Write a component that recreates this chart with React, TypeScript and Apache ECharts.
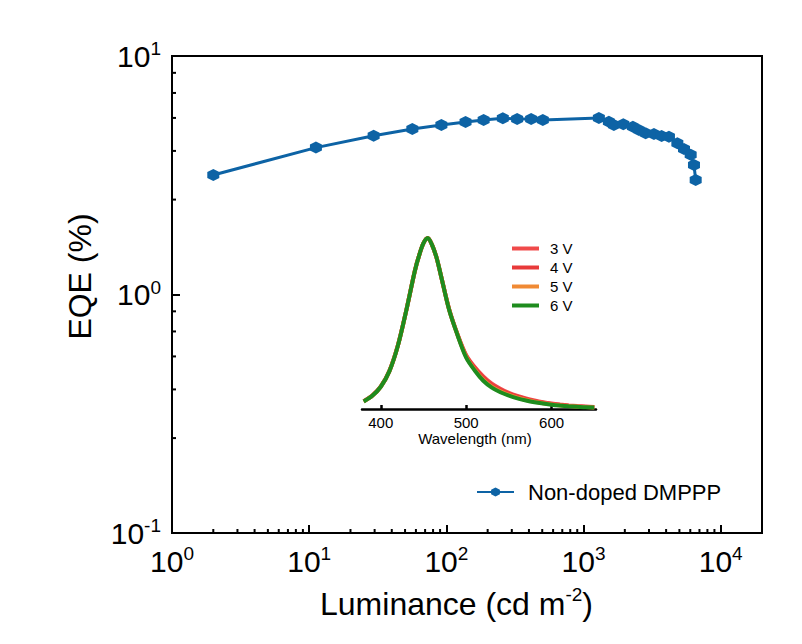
import React, { useEffect, useRef } from 'react';
import * as echarts from 'echarts';

// ---- main EQE vs luminance data ----
const luminance = [2.0, 11.2, 29.5, 56.5, 92, 138, 187, 258, 328, 415, 505, 1294, 1530, 1664, 1950, 2290, 2535, 2836, 3260, 3710, 4195, 4830, 5400, 6040, 6385, 6570];
const eqe = [3.17, 4.13, 4.63, 4.94, 5.14, 5.29, 5.39, 5.48, 5.44, 5.44, 5.39, 5.5, 5.3, 5.14, 5.17, 5.05, 4.89, 4.74, 4.71, 4.62, 4.59, 4.31, 4.07, 3.85, 3.49, 3.02];

// ---- minor tick values (Origin style) ----
const xMinorTicks = [2, 3, 4, 5, 6, 7, 8, 9, 20, 30, 40, 50, 60, 70, 80, 90, 200, 300, 400, 500, 600, 700, 800, 900, 2000, 3000, 4000, 5000, 6000, 7000, 8000, 9000];
const yMinorTicks = [0.25, 0.4, 0.55, 0.7, 0.85, 2.5, 4, 5.5, 7, 8.5];

// ---- inset EL spectra ----
const wavelength = [380, 390, 400, 410, 420, 430, 440, 445, 450, 455, 460, 465, 470, 480, 490, 500, 510, 520, 530, 540, 550, 560, 570, 580, 590, 600, 610, 620, 630, 640, 650];
const el3V = [0.046, 0.079, 0.132, 0.222, 0.372, 0.58, 0.81, 0.9, 0.97, 1.0, 0.96, 0.89, 0.79, 0.585, 0.435, 0.315, 0.245, 0.19, 0.148, 0.118, 0.095, 0.077, 0.062, 0.05, 0.04, 0.032, 0.026, 0.021, 0.017, 0.014, 0.011];
const el4V = [0.045, 0.078, 0.131, 0.221, 0.371, 0.58, 0.81, 0.9, 0.97, 1.0, 0.96, 0.89, 0.79, 0.583, 0.433, 0.31, 0.238, 0.182, 0.14, 0.111, 0.089, 0.072, 0.058, 0.046, 0.037, 0.03, 0.024, 0.019, 0.015, 0.012, 0.01];
const el5V = [0.044, 0.077, 0.13, 0.22, 0.37, 0.58, 0.81, 0.9, 0.97, 1.0, 0.96, 0.89, 0.79, 0.581, 0.431, 0.305, 0.23, 0.172, 0.131, 0.103, 0.082, 0.066, 0.053, 0.042, 0.034, 0.027, 0.021, 0.017, 0.014, 0.011, 0.009];
const el6V = [0.044, 0.077, 0.13, 0.22, 0.37, 0.58, 0.81, 0.9, 0.97, 1.0, 0.96, 0.89, 0.79, 0.58, 0.43, 0.3, 0.225, 0.165, 0.125, 0.098, 0.078, 0.062, 0.05, 0.04, 0.032, 0.025, 0.02, 0.016, 0.013, 0.01, 0.009];
const insetTicks = [400, 500, 600];

const FONT = '"Liberation Sans", Arial, Helvetica, sans-serif';
const BLUE = '#0d63a5';
const HEX = 'path://M0,-1 L0.866,-0.5 L0.866,0.5 L0,1 L-0.866,0.5 L-0.866,-0.5 Z';

const pow10 = (v: number) => {
  const e = Math.round(Math.log10(v));
  return `{b|10}{s|${e}}`;
};
const powRich = {
  b: { fontSize: 30, lineHeight: 34, fontFamily: FONT, color: '#000' },
  s: { fontSize: 19, lineHeight: 19, fontFamily: FONT, color: '#000', verticalAlign: 'top' },
};

const zip = (xs: number[], ys: number[]) => xs.map((x, i) => [x, ys[i]]);

export default function App() {
  const ref = useRef<HTMLDivElement>(null);
  useEffect(() => {
    if (!ref.current) return;
    const chart = echarts.init(ref.current, undefined, { renderer: 'svg' });
    const option: any = {
      animation: false,
      backgroundColor: '#ffffff',
      textStyle: { fontFamily: FONT },
      grid: [
        { left: 172, top: 56, width: 590, height: 477, show: true, borderColor: '#000', borderWidth: 2, backgroundColor: 'transparent' },
        { left: 362, top: 238, width: 234, height: 171, show: false },
      ],
      xAxis: [
        {
          type: 'log', logBase: 10, min: 1, max: 20000, gridIndex: 0,
          axisLine: { show: true, lineStyle: { color: '#000', width: 2 } },
          axisTick: { show: true, inside: true, length: 8, lineStyle: { color: '#000', width: 2 } },
          axisLabel: { show: true, formatter: pow10, rich: powRich, margin: 11, showMaxLabel: false, color: '#000' },
          splitLine: { show: false },
          name: '{a|Luminance (cd m}{s|-2}{a|)}',
          nameLocation: 'middle',
          nameGap: 52,
          nameTextStyle: {
            padding: [0, 21, 0, 0],
            rich: {
              a: { fontSize: 32, lineHeight: 38, fontFamily: FONT, color: '#000' },
              s: { fontSize: 19, lineHeight: 19, fontFamily: FONT, color: '#000', verticalAlign: 'top' },
            },
          },
        },
        {
          type: 'value', min: 378, max: 652, gridIndex: 1,
          axisLine: { show: true, lineStyle: { color: '#000', width: 2.5 } },
          axisTick: { show: true, inside: true, length: 4, customValues: insetTicks, lineStyle: { color: '#000', width: 2.5 } },
          axisLabel: { show: true, customValues: insetTicks, fontSize: 15, margin: 6, color: '#000', fontFamily: FONT },
          splitLine: { show: false },
          name: 'Wavelength (nm)',
          nameLocation: 'middle',
          nameGap: 21,
          nameTextStyle: { fontSize: 15, color: '#000', fontFamily: FONT, padding: [0, 8, 0, 0] },
        },
      ],
      yAxis: [
        {
          type: 'log', logBase: 10, min: 0.1, max: 10, gridIndex: 0,
          axisLine: { show: true, lineStyle: { color: '#000', width: 2 } },
          axisTick: { show: true, inside: true, length: 8, lineStyle: { color: '#000', width: 2 } },
          axisLabel: { show: true, formatter: pow10, rich: powRich, margin: 11, color: '#000' },
          splitLine: { show: false },
          name: 'EQE (%)',
          nameLocation: 'middle',
          nameGap: 76,
          nameTextStyle: { fontSize: 32, color: '#000', fontFamily: FONT, padding: [0, 0, 0, 36] },
        },
        { type: 'value', min: 0, max: 1, gridIndex: 1, show: false },
      ],
      legend: [
        {
          data: ['Non-doped DMPPP'],
          left: 476, top: 481, padding: 0,
          itemWidth: 37, itemHeight: 11,
          textStyle: { fontSize: 22, lineHeight: 22, color: '#000', fontFamily: FONT, padding: [0, 0, 0, 9] },
        },
        {
          data: ['3 V', '4 V', '5 V', '6 V'],
          orient: 'vertical',
          left: 512, top: 241, padding: 0,
          icon: 'rect', itemWidth: 27, itemHeight: 4, itemGap: 4,
          textStyle: { fontSize: 15, lineHeight: 15, color: '#000', fontFamily: FONT, padding: [0, 0, 0, 6] },
        },
      ],
      series: [
        {
          name: 'xMinor', type: 'custom', xAxisIndex: 0, yAxisIndex: 0, silent: true,
          data: xMinorTicks.map((v) => [v, 0.1]),
          renderItem: (_p: any, api: any) => {
            const pt = api.coord([api.value(0), api.value(1)]);
            return { type: 'line', shape: { x1: pt[0], y1: pt[1], x2: pt[0], y2: pt[1] - 4 }, style: { stroke: '#000', lineWidth: 2 } };
          },
        },
        {
          name: 'yMinor', type: 'custom', xAxisIndex: 0, yAxisIndex: 0, silent: true,
          data: yMinorTicks.map((v) => [1, v]),
          renderItem: (_p: any, api: any) => {
            const pt = api.coord([api.value(0), api.value(1)]);
            return { type: 'line', shape: { x1: pt[0], y1: pt[1], x2: pt[0] + 4, y2: pt[1] }, style: { stroke: '#000', lineWidth: 2 } };
          },
        },
        {
          name: 'Non-doped DMPPP', type: 'line', xAxisIndex: 0, yAxisIndex: 0,
          data: zip(luminance, eqe),
          symbol: HEX, symbolSize: 12, showSymbol: true,
          lineStyle: { color: BLUE, width: 3 },
          itemStyle: { color: BLUE },
          color: BLUE,
        },
        {
          name: '3 V', type: 'line', xAxisIndex: 1, yAxisIndex: 1, data: zip(wavelength, el3V),
          showSymbol: false, symbol: 'none', smooth: 0.3, color: '#f04a4a', lineStyle: { color: '#f04a4a', width: 4 },
        },
        {
          name: '4 V', type: 'line', xAxisIndex: 1, yAxisIndex: 1, data: zip(wavelength, el4V),
          showSymbol: false, symbol: 'none', smooth: 0.3, color: '#e83a3a', lineStyle: { color: '#e83a3a', width: 4 },
        },
        {
          name: '5 V', type: 'line', xAxisIndex: 1, yAxisIndex: 1, data: zip(wavelength, el5V),
          showSymbol: false, symbol: 'none', smooth: 0.3, color: '#f08a34', lineStyle: { color: '#f08a34', width: 4 },
        },
        {
          name: '6 V', type: 'line', xAxisIndex: 1, yAxisIndex: 1, data: zip(wavelength, el6V),
          showSymbol: false, symbol: 'none', smooth: 0.3, color: '#1e8c1e', lineStyle: { color: '#1e8c1e', width: 4 },
        },
      ],
    };
    chart.setOption(option);
    return () => chart.dispose();
  }, []);
  return <div ref={ref} style={{ position: 'absolute', left: 0, top: 0, width: 802, height: 644 }} />;
}
